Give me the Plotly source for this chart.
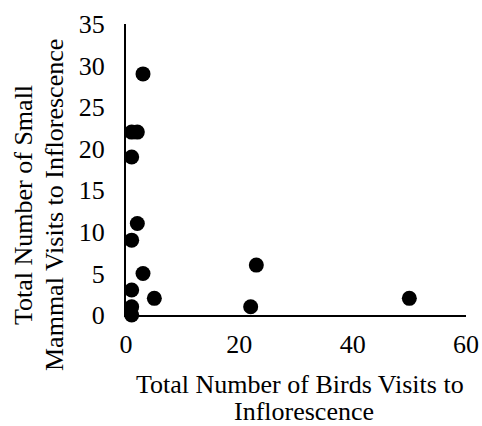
import plotly.graph_objects as go

birds = [3, 1, 2, 1, 2, 1, 3, 1, 5, 1, 1, 23, 22, 50]
mammals = [29, 22, 22, 19, 11, 9, 5, 3, 2, 1, 0, 6, 1, 2]
x_ticks = [0, 20, 40, 60]
y_ticks = [0, 5, 10, 15, 20, 25, 30, 35]

W, H = 482, 426
L, R, T, B = 126, 16, 24, 111
PW, PH = W - L - R, H - T - B
FS = 26
font = dict(family="Liberation Serif, Times New Roman, serif", size=FS, color="black")


def px_x(px):
    return (px - L) / PW


def px_y(py):
    return (H - B - py) / PH


fig = go.Figure(go.Scatter(x=birds, y=mammals, mode="markers",
                           marker=dict(color="black", size=15, line=dict(width=0)),
                           cliponaxis=False))
fig.update_layout(
    template="none",
    width=W, height=H, margin=dict(l=L, r=R, t=T, b=B, autoexpand=False),
    paper_bgcolor="white", plot_bgcolor="white", showlegend=False,
    font=font,
    xaxis=dict(range=[0, 60], tickvals=x_ticks, showgrid=False, zeroline=False,
               showline=True, linecolor="black", linewidth=2, ticks="",
               ticklabelstandoff=5, tickfont=font, layer="below traces",
               automargin=False),
    yaxis=dict(range=[0, 35], tickvals=y_ticks, showgrid=False, zeroline=False,
               showline=True, linecolor="black", linewidth=2, ticks="",
               ticklabelstandoff=14, tickfont=font, layer="below traces",
               automargin=False),
    annotations=[
        dict(text="Total Number of Birds Visits to", xref="paper", yref="paper",
             x=px_x(300), y=px_y(384), showarrow=False, font=font,
             xanchor="center", yanchor="middle"),
        dict(text="Inflorescence", xref="paper", yref="paper",
             x=px_x(304), y=px_y(411.5), showarrow=False, font=font,
             xanchor="center", yanchor="middle"),
        dict(text="Total Number of Small", xref="paper", yref="paper",
             x=px_x(23), y=px_y(205), showarrow=False, font=font, textangle=-90,
             xanchor="center", yanchor="middle"),
        dict(text="Mammal Visits to Inflorescence", xref="paper", yref="paper",
             x=px_x(54), y=px_y(205), showarrow=False, font=font, textangle=-90,
             xanchor="center", yanchor="middle"),
    ],
)
fig.write_html("out.html")
